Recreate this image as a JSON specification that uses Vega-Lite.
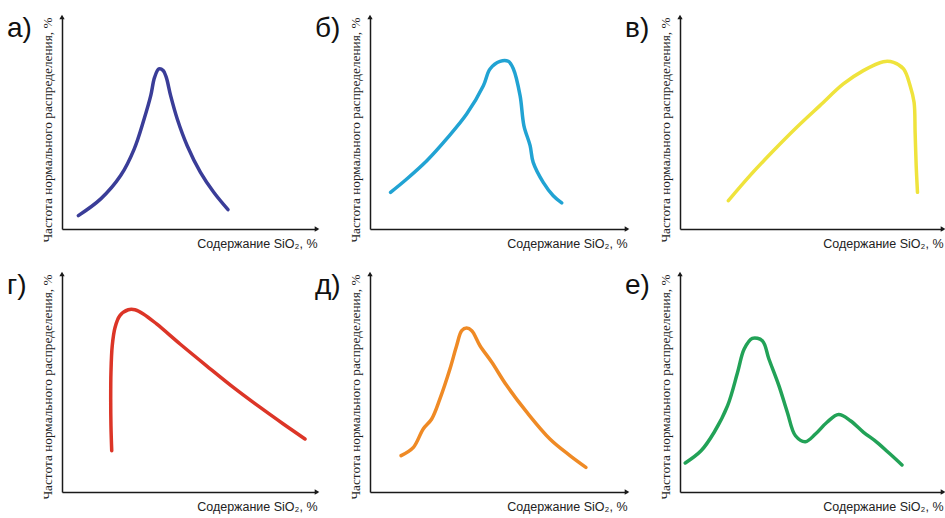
{
  "$schema": "https://vega.github.io/schema/vega-lite/v6.json",
  "background": "white",
  "padding": {"left": 7, "top": 14, "right": 2, "bottom": 2},
  "bounds": "flush",
  "columns": 3,
  "spacing": {"row": 45, "column": 53},
  "datasets": {
    "a": [
      {"x": 6.4, "y": 6.3}, {"x": 15.2, "y": 14.2}, {"x": 23.0, "y": 25.2}, {"x": 28.3, "y": 37.7},
      {"x": 32.2, "y": 51.9}, {"x": 34.8, "y": 62.9}, {"x": 36.3, "y": 71.5}, {"x": 38.0, "y": 75.5},
      {"x": 39.7, "y": 74.7}, {"x": 40.9, "y": 71.5}, {"x": 42.6, "y": 62.9}, {"x": 45.2, "y": 51.9},
      {"x": 49.1, "y": 39.3}, {"x": 54.3, "y": 26.7}, {"x": 59.5, "y": 17.3}, {"x": 65.1, "y": 9.1}
    ],
    "b": [
      {"x": 8.0, "y": 17.3}, {"x": 14.3, "y": 23.6}, {"x": 22.1, "y": 32.2}, {"x": 29.8, "y": 42.5},
      {"x": 37.6, "y": 54.2}, {"x": 44.1, "y": 67.6}, {"x": 46.7, "y": 75.5}, {"x": 50.6, "y": 79.1},
      {"x": 53.8, "y": 79.1}, {"x": 55.8, "y": 75.5}, {"x": 58.4, "y": 62.9}, {"x": 59.9, "y": 48.7},
      {"x": 62.3, "y": 39.3}, {"x": 63.5, "y": 31.4}, {"x": 67.4, "y": 22.0}, {"x": 71.3, "y": 15.7},
      {"x": 74.6, "y": 12.3}
    ],
    "c": [
      {"x": 18.4, "y": 13.4}, {"x": 26.6, "y": 25.2}, {"x": 35.5, "y": 36.9}, {"x": 44.4, "y": 48.0},
      {"x": 53.2, "y": 58.2}, {"x": 62.1, "y": 68.4}, {"x": 69.7, "y": 74.7}, {"x": 77.3, "y": 78.9},
      {"x": 81.2, "y": 78.6}, {"x": 85.0, "y": 75.5}, {"x": 87.5, "y": 67.6}, {"x": 89.0, "y": 59.8},
      {"x": 89.4, "y": 45.6}, {"x": 89.8, "y": 29.9}, {"x": 90.3, "y": 17.3}
    ],
    "d": [
      {"x": 19.5, "y": 18.9}, {"x": 19.2, "y": 30.4}, {"x": 19.1, "y": 42.7}, {"x": 19.2, "y": 54.9},
      {"x": 19.7, "y": 67.1}, {"x": 20.8, "y": 75.5}, {"x": 22.7, "y": 80.9}, {"x": 26.0, "y": 83.6},
      {"x": 28.6, "y": 83.6}, {"x": 31.9, "y": 81.7}, {"x": 37.1, "y": 77.1}, {"x": 46.3, "y": 67.9},
      {"x": 56.7, "y": 57.9}, {"x": 67.2, "y": 48.0}, {"x": 77.6, "y": 38.9}, {"x": 86.8, "y": 31.2},
      {"x": 95.3, "y": 24.3}
    ],
    "e": [
      {"x": 12.1, "y": 16.7}, {"x": 16.9, "y": 20.5}, {"x": 20.7, "y": 28.9}, {"x": 24.0, "y": 33.5},
      {"x": 27.2, "y": 42.7}, {"x": 31.1, "y": 56.4}, {"x": 33.7, "y": 67.1}, {"x": 35.7, "y": 74.0},
      {"x": 37.6, "y": 75.2}, {"x": 39.6, "y": 74.0}, {"x": 42.8, "y": 67.1}, {"x": 47.4, "y": 59.5},
      {"x": 53.2, "y": 48.8}, {"x": 61.0, "y": 36.6}, {"x": 70.0, "y": 24.3}, {"x": 77.8, "y": 16.7},
      {"x": 84.0, "y": 11.3}
    ],
    "f": [
      {"x": 2.0, "y": 13.3}, {"x": 8.0, "y": 18.9}, {"x": 13.0, "y": 27.4}, {"x": 18.1, "y": 39.6},
      {"x": 21.9, "y": 54.9}, {"x": 24.4, "y": 65.6}, {"x": 27.5, "y": 70.5}, {"x": 31.3, "y": 69.4},
      {"x": 33.8, "y": 61.0}, {"x": 37.6, "y": 48.8}, {"x": 40.8, "y": 36.6}, {"x": 43.9, "y": 25.8},
      {"x": 47.7, "y": 23.1}, {"x": 51.5, "y": 26.6}, {"x": 55.9, "y": 32.0}, {"x": 60.3, "y": 35.5},
      {"x": 64.8, "y": 32.7}, {"x": 69.8, "y": 27.4}, {"x": 74.9, "y": 22.8}, {"x": 79.9, "y": 17.4},
      {"x": 84.4, "y": 12.4}
    ],
    "one": [{}]
  },
  "concat": [
    {
      "width": 255, "height": 212,
      "title": {"text": "а)"},
      "layer": [
        {"data": {"name": "a"}, "mark": {"type": "line", "interpolate": "catmull-rom", "stroke": "#3a3d98", "strokeWidth": 3.5, "strokeCap": "round"},
         "encoding": {"x": {"field": "x", "type": "quantitative", "scale": {"domain": [0, 100]}, "axis": {"title": "Содержание SiO₂, %"}},
                      "y": {"field": "y", "type": "quantitative", "scale": {"domain": [0, 100]}, "axis": {"title": "Частота нормального распределения, %"}},
                      "order": {"value": null}}},
        {"data": {"name": "one"}, "mark": {"type": "point", "shape": "triangle-up", "filled": true, "color": "#1a1a1a", "size": 28, "opacity": 1},
         "encoding": {"x": {"datum": 0, "type": "quantitative"}, "y": {"datum": 100, "type": "quantitative"}}},
        {"data": {"name": "one"}, "mark": {"type": "point", "shape": "triangle-right", "filled": true, "color": "#1a1a1a", "size": 28, "opacity": 1},
         "encoding": {"x": {"datum": 100, "type": "quantitative"}, "y": {"datum": 0, "type": "quantitative"}}}
      ]
    },
    {
      "width": 257, "height": 212,
      "title": {"text": "б)"},
      "layer": [
        {"data": {"name": "b"}, "mark": {"type": "line", "interpolate": "catmull-rom", "stroke": "#21a3d3", "strokeWidth": 3.5, "strokeCap": "round"},
         "encoding": {"x": {"field": "x", "type": "quantitative", "scale": {"domain": [0, 100]}, "axis": {"title": "Содержание SiO₂, %"}},
                      "y": {"field": "y", "type": "quantitative", "scale": {"domain": [0, 100]}, "axis": {"title": "Частота нормального распределения, %"}},
                      "order": {"value": null}}},
        {"data": {"name": "one"}, "mark": {"type": "point", "shape": "triangle-up", "filled": true, "color": "#1a1a1a", "size": 28, "opacity": 1},
         "encoding": {"x": {"datum": 0, "type": "quantitative"}, "y": {"datum": 100, "type": "quantitative"}}},
        {"data": {"name": "one"}, "mark": {"type": "point", "shape": "triangle-right", "filled": true, "color": "#1a1a1a", "size": 28, "opacity": 1},
         "encoding": {"x": {"datum": 100, "type": "quantitative"}, "y": {"datum": 0, "type": "quantitative"}}}
      ]
    },
    {
      "width": 263, "height": 212,
      "title": {"text": "в)"},
      "layer": [
        {"data": {"name": "c"}, "mark": {"type": "line", "interpolate": "catmull-rom", "stroke": "#efe33c", "strokeWidth": 3.5, "strokeCap": "round"},
         "encoding": {"x": {"field": "x", "type": "quantitative", "scale": {"domain": [0, 100]}, "axis": {"title": "Содержание SiO₂, %"}},
                      "y": {"field": "y", "type": "quantitative", "scale": {"domain": [0, 100]}, "axis": {"title": "Частота нормального распределения, %"}},
                      "order": {"value": null}}},
        {"data": {"name": "one"}, "mark": {"type": "point", "shape": "triangle-up", "filled": true, "color": "#1a1a1a", "size": 28, "opacity": 1},
         "encoding": {"x": {"datum": 0, "type": "quantitative"}, "y": {"datum": 100, "type": "quantitative"}}},
        {"data": {"name": "one"}, "mark": {"type": "point", "shape": "triangle-right", "filled": true, "color": "#1a1a1a", "size": 28, "opacity": 1},
         "encoding": {"x": {"datum": 100, "type": "quantitative"}, "y": {"datum": 0, "type": "quantitative"}}}
      ]
    },
    {
      "width": 255, "height": 218,
      "title": {"text": "г)"},
      "layer": [
        {"data": {"name": "d"}, "mark": {"type": "line", "interpolate": "catmull-rom", "stroke": "#dc3527", "strokeWidth": 3.5, "strokeCap": "round"},
         "encoding": {"x": {"field": "x", "type": "quantitative", "scale": {"domain": [0, 100]}, "axis": {"title": "Содержание SiO₂, %"}},
                      "y": {"field": "y", "type": "quantitative", "scale": {"domain": [0, 100]}, "axis": {"title": "Частота нормального распределения, %"}},
                      "order": {"value": null}}},
        {"data": {"name": "one"}, "mark": {"type": "point", "shape": "triangle-up", "filled": true, "color": "#1a1a1a", "size": 28, "opacity": 1},
         "encoding": {"x": {"datum": 0, "type": "quantitative"}, "y": {"datum": 100, "type": "quantitative"}}},
        {"data": {"name": "one"}, "mark": {"type": "point", "shape": "triangle-right", "filled": true, "color": "#1a1a1a", "size": 28, "opacity": 1},
         "encoding": {"x": {"datum": 100, "type": "quantitative"}, "y": {"datum": 0, "type": "quantitative"}}}
      ]
    },
    {
      "width": 257, "height": 218,
      "title": {"text": "д)"},
      "layer": [
        {"data": {"name": "e"}, "mark": {"type": "line", "interpolate": "catmull-rom", "stroke": "#ef8a25", "strokeWidth": 3.5, "strokeCap": "round"},
         "encoding": {"x": {"field": "x", "type": "quantitative", "scale": {"domain": [0, 100]}, "axis": {"title": "Содержание SiO₂, %"}},
                      "y": {"field": "y", "type": "quantitative", "scale": {"domain": [0, 100]}, "axis": {"title": "Частота нормального распределения, %"}},
                      "order": {"value": null}}},
        {"data": {"name": "one"}, "mark": {"type": "point", "shape": "triangle-up", "filled": true, "color": "#1a1a1a", "size": 28, "opacity": 1},
         "encoding": {"x": {"datum": 0, "type": "quantitative"}, "y": {"datum": 100, "type": "quantitative"}}},
        {"data": {"name": "one"}, "mark": {"type": "point", "shape": "triangle-right", "filled": true, "color": "#1a1a1a", "size": 28, "opacity": 1},
         "encoding": {"x": {"datum": 100, "type": "quantitative"}, "y": {"datum": 0, "type": "quantitative"}}}
      ]
    },
    {
      "width": 263, "height": 218,
      "title": {"text": "е)"},
      "layer": [
        {"data": {"name": "f"}, "mark": {"type": "line", "interpolate": "catmull-rom", "stroke": "#22a257", "strokeWidth": 3.5, "strokeCap": "round"},
         "encoding": {"x": {"field": "x", "type": "quantitative", "scale": {"domain": [0, 100]}, "axis": {"title": "Содержание SiO₂, %"}},
                      "y": {"field": "y", "type": "quantitative", "scale": {"domain": [0, 100]}, "axis": {"title": "Частота нормального распределения, %"}},
                      "order": {"value": null}}},
        {"data": {"name": "one"}, "mark": {"type": "point", "shape": "triangle-up", "filled": true, "color": "#1a1a1a", "size": 28, "opacity": 1},
         "encoding": {"x": {"datum": 0, "type": "quantitative"}, "y": {"datum": 100, "type": "quantitative"}}},
        {"data": {"name": "one"}, "mark": {"type": "point", "shape": "triangle-right", "filled": true, "color": "#1a1a1a", "size": 28, "opacity": 1},
         "encoding": {"x": {"datum": 100, "type": "quantitative"}, "y": {"datum": 0, "type": "quantitative"}}}
      ]
    }
  ],
  "config": {
    "font": "Liberation Sans",
    "view": {"stroke": null},
    "axis": {"grid": false, "ticks": false, "labels": false, "domainColor": "#1a1a1a", "domainWidth": 1.5,
             "titleFont": "Liberation Sans", "titleFontSize": 12.5, "titleFontWeight": "normal", "titleColor": "#222222",
             "titleAnchor": "end", "titlePadding": 8},
    "axisY": {"titleFont": "Liberation Sans Narrow", "titleFontSize": 13.3, "titlePadding": 8},
    "title": {"anchor": "start", "frame": "group", "dx": -55, "baseline": "alphabetic", "offset": 0, "dy": 32,
              "font": "Liberation Sans", "fontSize": 28, "fontWeight": "normal", "color": "#111111"}
  }
}
